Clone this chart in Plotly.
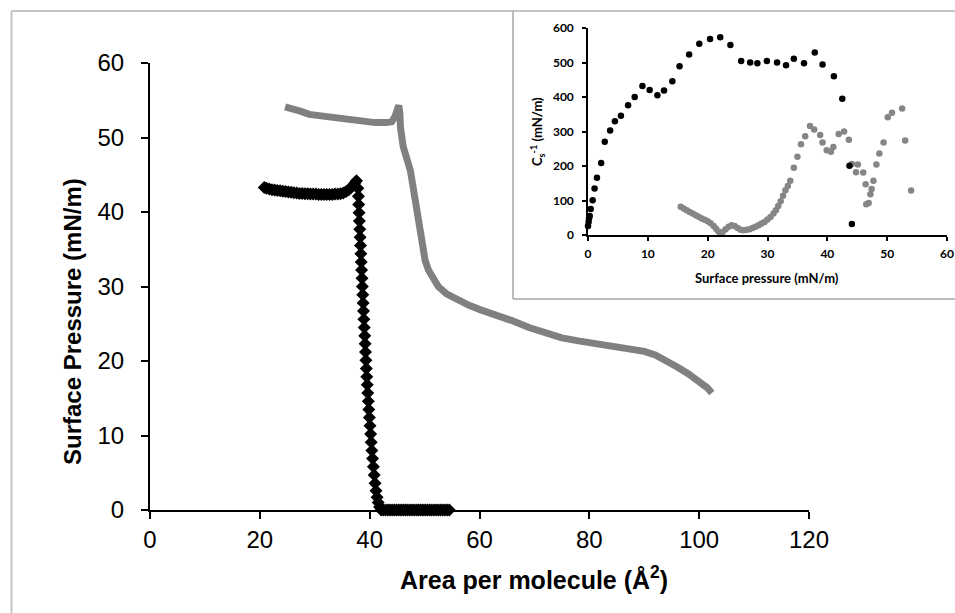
import plotly.graph_objects as go

W, H = 955, 613

# ---------------- main chart data ----------------
# black series (diamonds): plateau, collapse, zero region
blk_plateau_x = [20.8, 21.2, 21.7, 22.2, 22.7, 23.2, 23.7, 24.2, 24.7, 25.2, 25.7, 26.2, 26.7, 27.2,
                 27.7, 28.2, 28.7, 29.2, 29.7, 30.2, 30.7, 31.2, 31.7, 32.2, 32.7, 33.2, 33.7, 34.2,
                 34.7, 35.2, 35.7, 36.2, 36.6, 37.0, 37.3, 37.6]
blk_plateau_y = [43.3, 43.2, 43.1, 43.0, 42.95, 42.9, 42.85, 42.8, 42.75, 42.7, 42.65, 42.6, 42.55, 42.5,
                 42.5, 42.45, 42.45, 42.4, 42.4, 42.4, 42.35, 42.35, 42.35, 42.35, 42.35, 42.35, 42.4, 42.4,
                 42.45, 42.55, 42.75, 43.0, 43.3, 43.6, 43.9, 44.2]
blk_drop_x = [37.85, 37.95, 38.0, 38.07, 38.13, 38.2, 38.26, 38.33, 38.4, 38.46, 38.53, 38.6, 38.67,
              38.74, 38.81, 38.88, 38.95, 39.02, 39.1, 39.17, 39.24, 39.31, 39.39, 39.47, 39.56, 39.65,
              39.75, 39.85, 39.95, 40.06, 40.17, 40.28, 40.4, 40.53, 40.67, 40.82, 40.98, 41.15, 41.35,
              41.55, 41.8]
blk_drop_y = [43.2, 42.1, 41.0, 39.9, 38.8, 37.7, 36.6, 35.5, 34.4, 33.3, 32.2, 31.1, 30.0, 28.9, 27.8,
              26.7, 25.6, 24.5, 23.4, 22.3, 21.2, 20.1, 19.0, 17.9, 16.8, 15.7, 14.6, 13.5, 12.4, 11.3,
              10.2, 9.1, 8.0, 6.9, 5.8, 4.7, 3.6, 2.6, 1.7, 1.0, 0.4]
blk_zero_x = [42.1, 42.5, 42.9, 43.3, 43.7, 44.1, 44.5, 44.9, 45.3, 45.7, 46.1, 46.5, 46.9, 47.3, 47.7,
              48.1, 48.5, 48.9, 49.3, 49.7, 50.1, 50.5, 50.9, 51.3, 51.7, 52.1, 52.5, 52.9, 53.3, 53.7,
              54.1, 54.5]
blk_zero_y = [0.0] * len(blk_zero_x)

# grey series (continuous curve)
grey_x = [24.6, 26.0, 27.5, 29.0, 31.0, 33.0, 35.0, 37.0, 39.0, 41.0, 43.0, 44.0, 44.6, 45.0, 45.3,
          45.5, 45.6, 46.1, 46.6, 47.0, 47.4, 47.7, 48.2, 48.6, 49.1, 49.5, 50.1, 50.7, 51.5, 52.5,
          54.0, 55.9, 58.0, 60.1, 63.0, 66.0, 69.0, 72.0, 75.0, 78.0, 81.0, 84.0, 86.0, 88.0, 90.0,
          92.0, 94.0, 96.0, 98.0, 100.0, 101.5, 102.3]
grey_y = [54.1, 53.9, 53.5, 53.1, 52.9, 52.8, 52.6, 52.3, 52.1, 52.0, 52.0, 52.1, 52.8, 53.8, 54.3,
          53.2, 51.4, 48.8, 47.6, 46.8, 45.6, 44.3, 42.0, 39.8, 37.4, 35.3, 33.5, 32.2, 31.0, 30.0,
          29.0, 28.2, 27.5, 26.9, 26.2, 25.4, 24.5, 23.7, 23.1, 22.7, 22.4, 22.1, 21.9, 21.6, 21.3,
          20.8, 20.1, 19.2, 18.3, 17.3, 16.4, 15.7]

main_xticks = [0, 20, 40, 60, 80, 100, 120]
main_yticks = [0, 10, 20, 30, 40, 50, 60]

# ---------------- inset data ----------------
ins_blk_x = [0.0, 0.1, 0.17, 0.28, 0.45, 0.78, 1.1, 1.5, 2.2, 2.8, 3.7, 4.5, 5.5, 6.7, 7.8, 9.1, 10.3,
             11.6, 12.7, 14.1, 15.3, 16.9, 18.6, 20.4, 22.1, 23.8, 25.6, 27.1, 28.3, 29.9, 31.6, 33.1,
             34.4, 36.1, 37.9, 39.2, 41.1, 42.5, 43.7, 44.1]
ins_blk_y = [26, 38, 48, 55, 75, 101, 135, 166, 209, 270, 303, 330, 346, 376, 400, 432, 420, 405, 419,
             446, 489, 523, 554, 568, 573, 551, 504, 500, 498, 504, 500, 492, 511, 498, 529, 494, 460,
             395, 201, 32]
ins_grey_x = [15.5, 16.0, 16.5, 17.0, 17.5, 18.0, 18.5, 19.0, 19.5, 20.0, 20.5, 21.0, 21.4, 21.8, 22.1,
              22.5, 23.0, 23.5, 24.0, 24.5, 25.0, 25.5, 26.0, 26.5, 27.0, 27.5, 28.0, 28.5, 29.0, 29.5,
              30.0, 30.5, 31.0, 31.4, 31.8, 32.2, 32.6, 33.0, 33.4, 33.8,
              34.4, 35.0, 35.6, 36.3, 37.1, 37.8, 38.8, 39.2, 39.9, 40.6, 41.0, 41.9, 42.8, 43.6, 44.1,
              44.8, 45.1, 46.0, 46.4, 46.5, 46.9, 47.2, 47.4, 47.7, 48.2, 48.7, 49.4, 50.1, 50.8, 52.5,
              53.0, 54.0]
ins_grey_y = [82, 77, 72, 67, 62, 57, 53, 48, 44, 40, 34, 26, 18, 10, 4, 9, 17, 24, 28, 26, 20, 15, 14,
              15, 17, 20, 24, 28, 33, 38, 45, 52, 62, 72, 84, 98, 114, 130, 142, 157,
              195, 227, 263, 286, 316, 306, 290, 268, 246, 241, 255, 293, 300, 276, 206, 182, 204, 181,
              147, 89, 93, 118, 133, 157, 204, 236, 268, 341, 354, 367, 274, 129]

ins_xticks = [0, 10, 20, 30, 40, 50, 60]
ins_yticks = [0, 100, 200, 300, 400, 500, 600]

# ---------------- figure ----------------
ARIAL = "Arial, Liberation Sans, sans-serif"
CAL = "Lato, Open Sans, sans-serif"
GREY = "#808080"

fig = go.Figure()
fig.add_trace(go.Scatter(x=grey_x, y=grey_y, mode="lines",
                         line=dict(color=GREY, width=7), cliponaxis=False,
                         xaxis="x", yaxis="y", showlegend=False))
fig.add_trace(go.Scatter(x=blk_plateau_x + blk_drop_x + blk_zero_x,
                         y=blk_plateau_y + blk_drop_y + blk_zero_y, mode="markers",
                         marker=dict(symbol="diamond", size=10, color="black"), cliponaxis=False,
                         xaxis="x", yaxis="y", showlegend=False))
fig.add_trace(go.Scatter(x=ins_grey_x, y=ins_grey_y, mode="markers",
                         marker=dict(symbol="circle", size=6.5, color="#868686"), cliponaxis=False,
                         xaxis="x2", yaxis="y2", showlegend=False))
fig.add_trace(go.Scatter(x=ins_blk_x, y=ins_blk_y, mode="markers",
                         marker=dict(symbol="circle", size=6.5, color="black"), cliponaxis=False,
                         xaxis="x2", yaxis="y2", showlegend=False))

px = lambda v: v / W
py = lambda v: 1 - v / H

main_axis = dict(showline=True, linecolor="black", linewidth=2, ticks="outside", ticklen=7,
                 tickwidth=2, tickcolor="black", showgrid=False, zeroline=False, automargin=False,
                 tickfont=dict(family=ARIAL, size=24, color="black"))
ins_axis = dict(showline=True, linecolor="black", linewidth=1.5, ticks="outside", ticklen=4,
                tickwidth=1.5, tickcolor="black", showgrid=False, zeroline=False, automargin=False,
                tickfont=dict(family=CAL, size=12, color="black", weight="bold"))

fig.update_layout(
    width=W, height=H, margin=dict(l=0, r=0, t=0, b=0, autoexpand=False),
    paper_bgcolor="white", plot_bgcolor="rgba(0,0,0,0)",
    xaxis=dict(domain=[px(150), px(809)], range=[0, 120], tickvals=main_xticks,
               anchor="y", ticklabelstandoff=0, **main_axis),
    yaxis=dict(domain=[py(510), py(63)], range=[0, 60], tickvals=main_yticks,
               anchor="x", ticklabelstandoff=12, **main_axis),
    xaxis2=dict(domain=[px(588), px(947)], range=[0, 60], tickvals=ins_xticks,
                anchor="y2", ticklabelstandoff=3, **ins_axis),
    yaxis2=dict(domain=[py(235), py(28)], range=[0, 600], tickvals=ins_yticks,
                anchor="x2", ticklabelstandoff=6, **ins_axis),
    shapes=[
        dict(type="line", xref="paper", yref="paper", x0=px(11.5), x1=px(11.5), y0=0, y1=py(11),
             line=dict(color="#c4c4c4", width=2)),
        dict(type="line", xref="paper", yref="paper", x0=px(11.5), x1=1, y0=py(11), y1=py(11),
             line=dict(color="#c4c4c4", width=2)),
        dict(type="line", xref="paper", yref="paper", x0=px(513), x1=px(513), y0=py(11), y1=py(299),
             line=dict(color="#a6a6a6", width=1.5)),
        dict(type="line", xref="paper", yref="paper", x0=px(513), x1=1, y0=py(299), y1=py(299),
             line=dict(color="#a6a6a6", width=1.5)),
    ],
    annotations=[
        dict(text="<b>Area per molecule (Å<sup>2</sup>)</b>", xref="paper", yref="paper",
             x=px(534), y=py(578), xanchor="center", yanchor="middle", showarrow=False,
             font=dict(family=ARIAL, size=25, color="black")),
        dict(text="<b>Surface Pressure (mN/m)</b>", xref="paper", yref="paper",
             x=px(72), y=py(322), xanchor="center", yanchor="middle", textangle=-90,
             showarrow=False, font=dict(family=ARIAL, size=24, color="black")),
        dict(text="<b>Surface pressure (mN/m)</b>", xref="paper", yref="paper",
             x=px(767), y=py(278), xanchor="center", yanchor="middle", showarrow=False,
             font=dict(family=CAL, size=13, color="black")),
        dict(text="<b>C<sub>s</sub><sup>-1</sup> (mN/m)</b>", xref="paper", yref="paper",
             x=px(537), y=py(132), xanchor="center", yanchor="middle", textangle=-90,
             showarrow=False, font=dict(family=CAL, size=13, color="black")),
    ],
)

fig.write_html("out.html", config={"displayModeBar": False},
               post_script="document.body.style.margin='0';document.body.style.overflow='hidden';")
